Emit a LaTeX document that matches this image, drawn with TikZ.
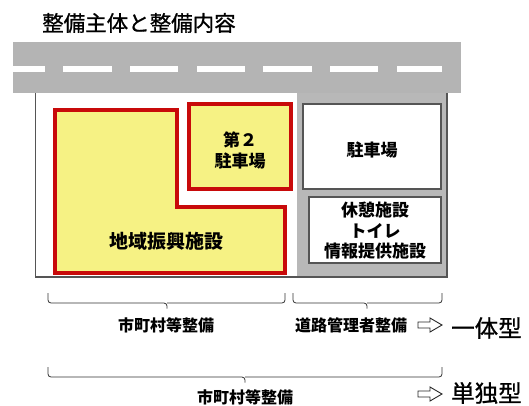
\documentclass[tikz,border=0pt]{standalone}
\usepackage{fontspec}
\setmainfont{Noto Sans CJK JP}
\newfontfamily\jpmed[FakeBold=0.9]{Noto Sans CJK JP}
\definecolor{roadgray}{RGB}{180,180,180}
\definecolor{sitegray}{RGB}{184,184,184}
\definecolor{lotyellow}{RGB}{246,242,132}
\definecolor{lotred}{RGB}{200,10,10}
\definecolor{linegray}{RGB}{85,85,85}
\tikzset{
  lot/.style={fill=lotyellow, draw=lotred, line width=4pt},
  facility/.style={fill=white, draw=linegray, line width=1.1pt},
  frame/.style={draw=linegray, line width=1.1pt},
  brace/.style={draw=black!80, line width=0.8pt, rounded corners=3pt},
  label/.style={font=\fontsize{16}{19}\selectfont\bfseries, inner sep=0pt},
  inlabel/.style={font=\fontsize{17}{21}\selectfont\bfseries, inner sep=0pt, align=center},
  typelabel/.style={font=\fontsize{23.5}{26}\selectfont\jpmed, inner sep=0pt},
  outarrow/.style={fill=white, draw=black!85, line width=0.9pt, line join=miter}
}
\begin{document}
\begin{tikzpicture}[x=1pt,y=-1pt]
\useasboundingbox (0,0) rectangle (529,405);
% title
\node[font=\fontsize{21.5}{24}\selectfont\jpmed, anchor=west, inner sep=0pt] (title) at (42,23) {整備主体と整備内容};
% road
\fill[roadgray] (13,42) rectangle (461,93);
\foreach \a/\b in {13/45,63/112,130/178,197/245,263/312,330/378,397/442}
  \fill[white] (\a,66) rectangle (\b,71.5);
% site
\fill[sitegray] (297,93) rectangle (447,277);
\draw[frame] (35.5,93) -- (35.5,277) -- (447,277) -- (447,93);
% L-shaped lot
\draw[lot] (55,110) -- (177,110) -- (177,207) -- (285,207) -- (285,273) -- (55,273) -- cycle;
\node[inlabel, font=\fontsize{19}{22}\selectfont\bfseries] (shinko) at (166,241) {地域振興施設};
% second parking
\draw[lot] (189,104) rectangle (291,189);
\node[inlabel] (p2) at (240,150) {第２\\駐車場};
% road admin facilities
\draw[facility] (303,104) rectangle (441,189);
\node[inlabel] (park) at (372,150) {駐車場};
\draw[facility] (309,197) rectangle (441,263);
\node[inlabel, font=\fontsize{17}{20.5}\selectfont\bfseries] (rest) at (375,231) {休憩施設\\トイレ\\情報提供施設};
% braces
\coordinate (b1l) at (48,293); \coordinate (b1r) at (285,293);
\draw[brace] (b1l) -- (48,303) -- (167,303) -- (167,308.5);
\draw[brace] (b1r) -- (285,303) -- (167,303);
\coordinate (b2l) at (293,293); \coordinate (b2r) at (442,293);
\draw[brace] (b2l) -- (293,303) -- (367,303) -- (367,308.5);
\draw[brace] (b2r) -- (442,303) -- (367,303);
\coordinate (b3l) at (48,367); \coordinate (b3r) at (442,367);
\draw[brace] (b3l) -- (48,377) -- (245,377) -- (245,382.5);
\draw[brace] (b3r) -- (442,377) -- (245,377);
% labels
\node[label] (m1) at (166,325) {市町村等整備};
\node[label] (rd) at (351,325) {道路管理者整備};
\node[label] (m2) at (245,397) {市町村等整備};
% arrows
\draw[outarrow] (418,322) -- (430,322) -- (430,318) -- (442,325) -- (430,332) -- (430,328) -- (418,328) -- cycle;
\draw[outarrow] (418,391) -- (430,391) -- (430,387) -- (442,394) -- (430,401) -- (430,397) -- (418,397) -- cycle;
\node[typelabel, anchor=west] (itai) at (451,328) {一体型};
\node[typelabel, anchor=west] (tandoku) at (451,393) {単独型};
\end{tikzpicture}
\end{document}
